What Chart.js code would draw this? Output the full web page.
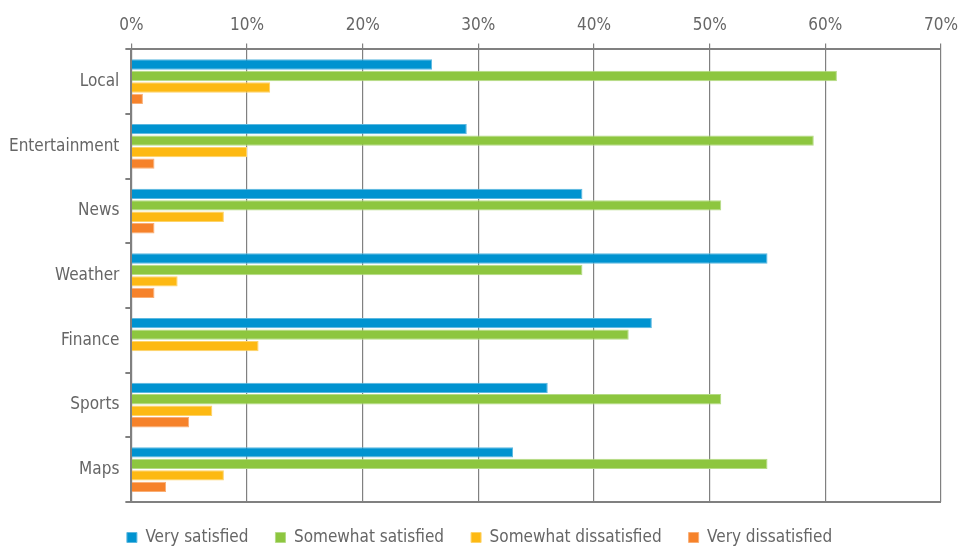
<!DOCTYPE html>
<html>
<head>
<meta charset="utf-8">
<script src="https://cdn.jsdelivr.net/npm/chart.js@4/dist/chart.umd.min.js"></script>
<style>
html,body{margin:0;padding:0;background:#fff;}
#wrap{width:966px;height:550px;}
</style>
</head>
<body>
<div id="wrap"><canvas id="c" width="966" height="550"></canvas></div>
<script>
const categories = ["Local","Entertainment","News","Weather","Finance","Sports","Maps"];
const verySatisfied = [26,29,39,55,45,36,33];
const somewhatSatisfied = [61,59,51,39,43,51,55];
const somewhatDissatisfied = [12,10,8,4,11,7,8];
const veryDissatisfied = [1,2,2,2,0,5,3];
const xTicks = [0,10,20,30,40,50,60,70];

const FONT = "'DejaVu Sans Condensed','Liberation Sans Narrow',sans-serif";
const GREY = '#808080';

function ds(label, data, color, border){
  return {label, data, backgroundColor: color, borderColor: border, borderWidth: 1,
    categoryPercentage: 0.71, barPercentage: 0.9};
}

new Chart(document.getElementById('c'), {
  type: 'bar',
  data: {
    labels: categories,
    datasets: [
      ds('Very satisfied', verySatisfied, '#0093D0', '#5cb8e0'),
      ds('Somewhat satisfied', somewhatSatisfied, '#8DC63F', '#b5db85'),
      ds('Somewhat dissatisfied', somewhatDissatisfied, '#FDB913', '#fdd36a'),
      ds('Very dissatisfied', veryDissatisfied, '#F6822A', '#f9ae75')
    ]
  },
  options: {
    indexAxis: 'y',
    responsive: false,
    animation: false,
    layout: {padding: {left: 3, right: 10, top: 7, bottom: -6}},
    plugins: {
      legend: {
        position: 'bottom',
        labels: {
          boxWidth: 10, boxHeight: 10, padding: 27,
          color: '#666', font: {family: FONT, size: 17}
        }
      },
      tooltip: {enabled: false}
    },
    scales: {
      x: {
        position: 'top',
        min: 0, max: 70,
        afterBuildTicks: (axis) => { axis.ticks = xTicks.map(v => ({value: v})); },
        ticks: {
          callback: (v) => v + '%',
          color: '#666', font: {family: FONT, size: 17}, padding: 8
        },
        grid: {color: GREY, lineWidth: 1.2, tickLength: 6, tickColor: GREY},
        border: {color: GREY, width: 2}
      },
      y: {
        ticks: {color: '#666', font: {family: FONT, size: 17}, padding: 6},
        grid: {
          offset: true,
          color: (ctx) => (ctx.type === 'scale' || ctx.index === categories.length ? GREY : 'rgba(0,0,0,0)'),
          lineWidth: 2,
          tickLength: 6,
          tickColor: GREY
        },
        border: {color: GREY, width: 2}
      }
    }
  }
});
</script>
</body>
</html>
